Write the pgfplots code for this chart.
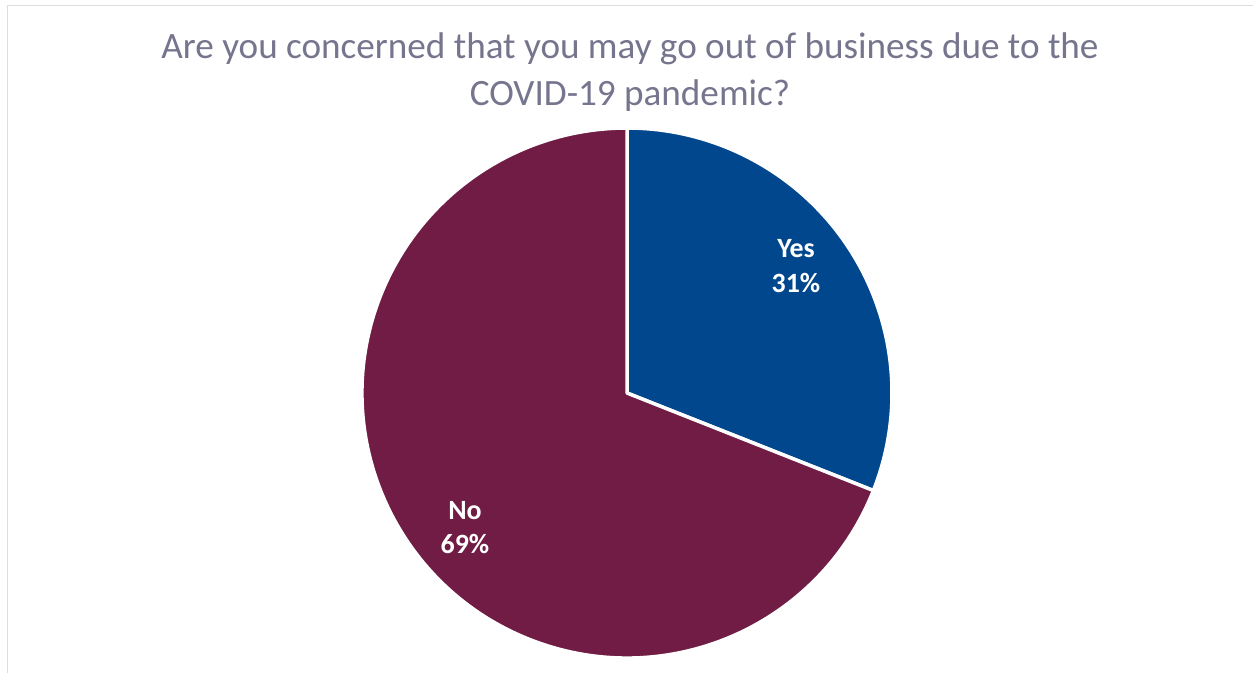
\documentclass[border=0pt]{standalone}
\usepackage{pgfplots}
\pgfplotsset{compat=1.18}
\usepackage{pgfplotstable}
\usepackage{fontspec}
\setmainfont{Carlito}
\definecolor{yescol}{RGB}{0,71,141}
\definecolor{nocol}{RGB}{112,28,68}
\definecolor{titlecol}{RGB}{118,117,142}
\definecolor{framecol}{RGB}{220,220,226}
\pgfplotstableread{
label value
Yes 31
No 69
}\piedata
\begin{document}
\begin{tikzpicture}[x=1bp,y=1bp]
\pgfplotstablegetelem{0}{value}\of\piedata \edef\yesv{\pgfplotsretval}
\pgfplotstablegetelem{1}{value}\of\piedata \edef\nov{\pgfplotsretval}
\pgfmathsetmacro\angA{90-3.6*\yesv}
\pgfmathsetmacro\angB{\angA-3.6*\nov}
\path[use as bounding box] (0,0) rectangle (1253,-673);
\fill[white] (0,0) rectangle (1253,-673);
\draw[framecol, line width=1.5bp] (7.5,-673) -- (7.5,-5.5) -- (1253,-5.5);
\begin{axis}[
  at={(627,-393)}, anchor=center,
  x=1bp, y=1bp, scale only axis,
  xmin=-270, xmax=270, ymin=-270, ymax=270,
  hide axis, clip=false]
  \fill[yescol, draw=white, line width=3.5bp, line join=round]
    (axis cs:0,0) -- (axis cs:0,265) arc[start angle=90, end angle=\angA, radius=265bp] -- cycle;
  \fill[nocol, draw=white, line width=3.5bp, line join=round]
    (axis cs:0,0) -- ({265*cos(\angA)},{265*sin(\angA)}) arc[start angle=\angA, end angle=\angB, radius=265bp] -- cycle;
\end{axis}
\node[anchor=base, text=titlecol, font=\fontsize{37.3}{44}\selectfont, inner sep=0] at (630,-59) {Are you concerned that you may go out of business due to the};
\node[anchor=base, text=titlecol, font=\fontsize{37.3}{44}\selectfont, inner sep=0] at (630,-106) {COVID-19 pandemic?};
\node[anchor=base, text=white, font=\fontsize{28}{32}\selectfont\bfseries, inner sep=0] at (796,-257) {Yes};
\node[anchor=base, text=white, font=\fontsize{28}{32}\selectfont\bfseries, inner sep=0] at (796,-292) {31\%};
\node[anchor=base, text=white, font=\fontsize{28}{32}\selectfont\bfseries, inner sep=0] at (465,-519) {No};
\node[anchor=base, text=white, font=\fontsize{28}{32}\selectfont\bfseries, inner sep=0] at (465,-553) {69\%};
\end{tikzpicture}
\end{document}
